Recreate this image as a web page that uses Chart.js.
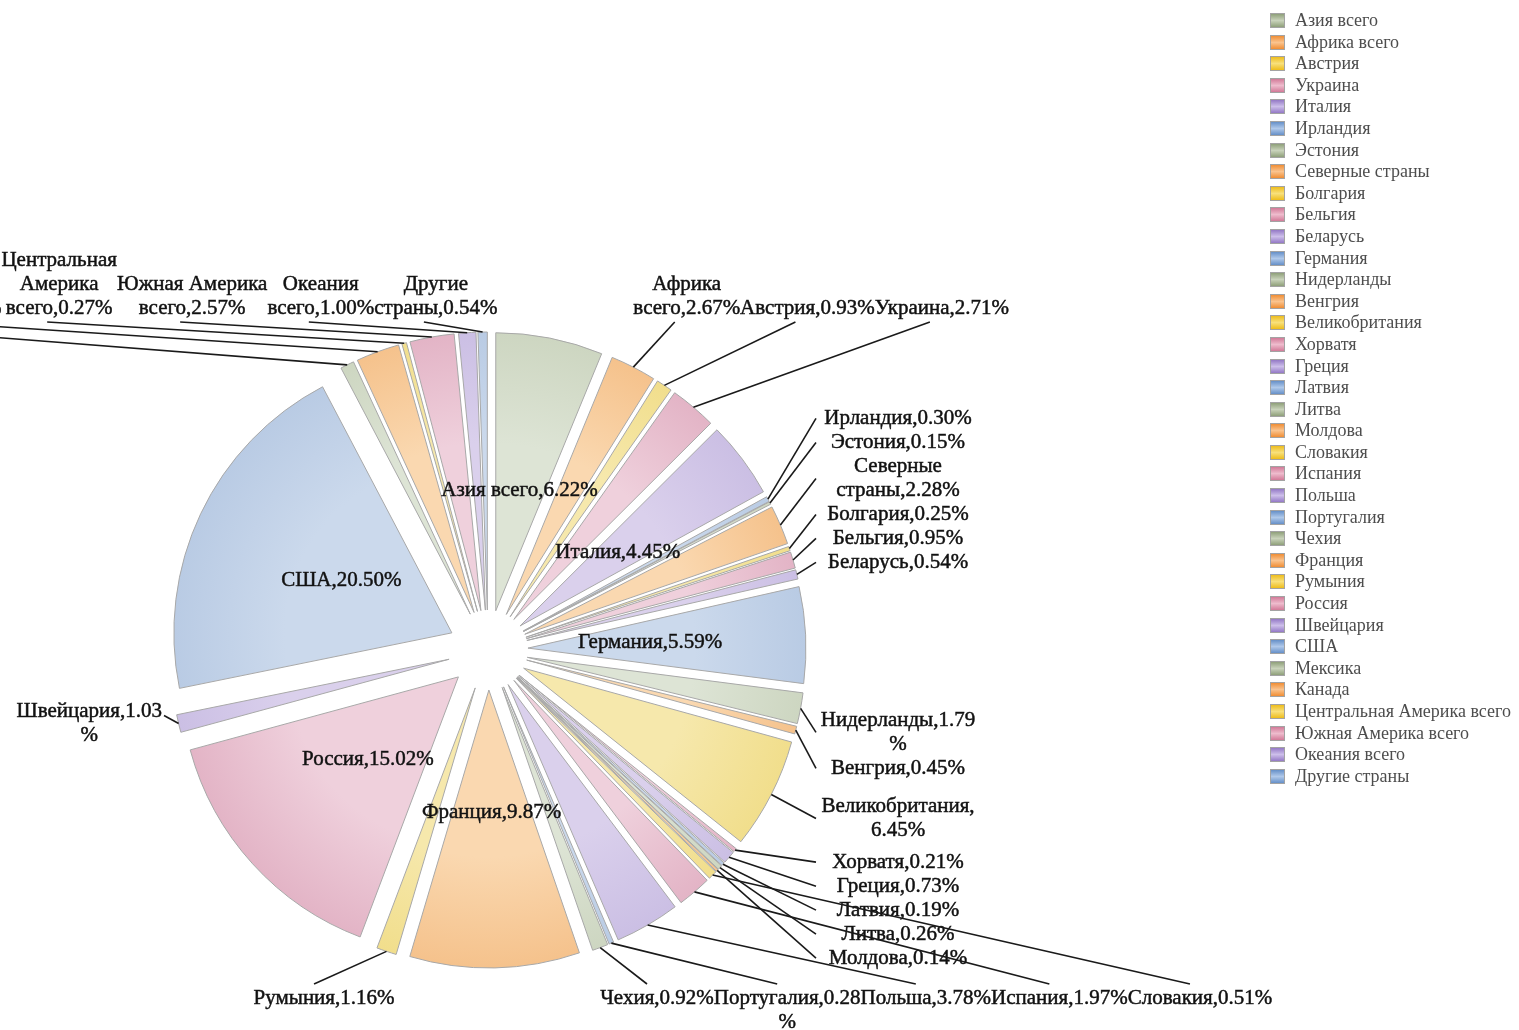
<!DOCTYPE html>
<html>
<head>
<meta charset="utf-8">
<script src="https://cdn.jsdelivr.net/npm/chart.js@4"></script>
<style>
  body { margin: 0; background: #fff; }
  #wrap { position: relative; width: 1519px; height: 1030px; overflow: hidden; }
  #chart { position: absolute; left: 0; top: 0; }
  #legend {
    position: absolute; left: 1270px; top: 10px;
    margin: 0; padding: 0; list-style: none;
    font: 18px "Liberation Serif", serif; color: #4d4d4d;
  }
  #legend li { height: 21.6px; line-height: 21.6px; white-space: nowrap; }
  #legend .box {
    display: inline-block; width: 13px; height: 13px; margin-right: 10px;
    vertical-align: -2px; border: 1px solid #a3a3a3;
  }
</style>
</head>
<body>
<div id="wrap">
  <canvas id="chart" width="1519" height="1030"></canvas>
  <ul id="legend"></ul>
</div>
<script>
// clockwise from 12 o'clock, same order as the legend
const categories = [
  'Азия всего', 'Африка всего', 'Австрия', 'Украина', 'Италия', 'Ирландия',
  'Эстония', 'Северные страны', 'Болгария', 'Бельгия', 'Беларусь', 'Германия',
  'Нидерланды', 'Венгрия', 'Великобритания', 'Хорватя', 'Греция', 'Латвия',
  'Литва', 'Молдова', 'Словакия', 'Испания', 'Польша', 'Португалия',
  'Чехия', 'Франция', 'Румыния', 'Россия', 'Швейцария', 'США',
  'Мексика', 'Канада', 'Центральная Америка всего', 'Южная Америка всего',
  'Океания всего', 'Другие страны'
];
const shares = [
  6.22, 2.67, 0.93, 2.71, 4.45, 0.30,
  0.15, 2.28, 0.25, 0.95, 0.54, 5.59,
  1.79, 0.45, 6.45, 0.21, 0.73, 0.19,
  0.26, 0.14, 0.51, 1.97, 3.78, 0.28,
  0.92, 9.87, 1.16, 15.02, 1.03, 20.50,
  0.80, 2.52, 0.27, 2.57,
  1.00, 0.54
];
// big slices carry their label inside
const insideLabels = ['Азия всего', 'Италия', 'Германия', 'Франция', 'Россия', 'США'];

// six-colour cycle: green, orange, yellow, pink, purple, blue
const sliceLight = ['#dde4d5', '#fad8b0', '#f6e8ac', '#efd0dc', '#dad0ec', '#cbd9ec'];
const sliceDark = ['#cdd6c1', '#f5c28c', '#f1de8c', '#e3b4c6', '#cbbfe4', '#b9cbe4'];
const legendDark = ['#8fa07a', '#f08e35', '#eebd1c', '#d27a98', '#9479c6', '#6690c8'];
const legendLight = ['#c9d3bb', '#fac48f', '#f8e07c', '#eebccd', '#cdbfea', '#b0c9ea'];

const PIE_RADIUS = 278;
const EXPLODE = 40;
const LABEL_FONT = '21px "Liberation Serif", serif';
const LINE_H = 24;
const MAX_LABEL_WIDTH = 160;

function sliceFill(c) {
  const k = c.dataIndex % 6;
  const area = c.chart.chartArea;
  if (!area) return sliceLight[k];
  const cx = (area.left + area.right) / 2;
  const cy = (area.top + area.bottom) / 2;
  const g = c.chart.ctx.createRadialGradient(cx, cy, 0, cx, cy, PIE_RADIUS);
  g.addColorStop(0, sliceLight[k]);
  g.addColorStop(0.6, sliceLight[k]);
  g.addColorStop(1, sliceDark[k]);
  return g;
}

function wrapText(ctx, text, maxW) {
  const lines = [];
  let line = '';
  for (const word of text.split(' ')) {
    const test = line ? line + ' ' + word : word;
    if (ctx.measureText(test).width <= maxW) { line = test; continue; }
    if (line) lines.push(line);
    let chunk = '';
    for (const ch of word) {
      if (chunk && ctx.measureText(chunk + ch).width > maxW) { lines.push(chunk); chunk = ch; }
      else chunk += ch;
    }
    line = chunk;
  }
  if (line) lines.push(line);
  return lines;
}

// every slice pushed out along its bisector by the same distance
const explodePlugin = {
  id: 'explode',
  beforeDatasetDraw(chart, args) {
    const ctx = chart.ctx;
    args.meta.data.forEach(arc => {
      const mid = (arc.startAngle + arc.endAngle) / 2;
      ctx.save();
      ctx.translate(Math.cos(mid) * EXPLODE, Math.sin(mid) * EXPLODE);
      arc.draw(ctx);
      ctx.restore();
    });
    return false;
  }
};

function drawText(ctx, s, x, y) {
  ctx.strokeText(s, x, y);
  ctx.fillText(s, x, y);
}

const labelPlugin = {
  id: 'sliceLabels',
  afterDatasetsDraw(chart) {
    const ctx = chart.ctx;
    const arcs = chart.getDatasetMeta(0).data;
    const cx = arcs[0].x, cy = arcs[0].y, R = arcs[0].outerRadius;
    const ro = R + EXPLODE;
    ctx.save();
    ctx.font = LABEL_FONT;
    ctx.fillStyle = '#111';
    ctx.textAlign = 'center';
    ctx.textBaseline = 'middle';
    ctx.lineWidth = 0.5;
    ctx.strokeStyle = '#222';

    const outside = [];
    arcs.forEach((arc, i) => {
      const mid = (arc.startAngle + arc.endAngle) / 2;
      const text = `${categories[i]},${shares[i].toFixed(2)}%`;
      if (insideLabels.includes(categories[i])) {
        const r = EXPLODE + R * 0.44;
        drawText(ctx, text, cx + Math.cos(mid) * r, cy + Math.sin(mid) * r);
        return;
      }
      const lines = wrapText(ctx, text, MAX_LABEL_WIDTH);
      const w = Math.max(...lines.map(l => ctx.measureText(l).width));
      const deg = ((mid * 180 / Math.PI + 90) % 360 + 360) % 360;
      outside.push({
        lines, w, h: lines.length * LINE_H, deg,
        ax: cx + Math.cos(mid) * ro, ay: cy + Math.sin(mid) * ro
      });
    });

    const zone = (a, b) => outside.filter(d => d.deg >= a && d.deg < b);
    const topY = cy - ro - 12;
    const bottomY = cy + ro + 18;

    // top right row, packed rightwards
    let edge = -Infinity;
    zone(0, 45).sort((a, b) => a.deg - b.deg).forEach(d => {
      d.left = Math.max(d.ax, edge); d.top = topY - d.h; d.boxW = d.w;
      edge = d.left + d.w;
      d.ex = d.left + d.w / 2 - 12; d.ey = topY + 2;
    });
    // top left row, packed leftwards
    edge = Infinity;
    zone(315, 360).sort((a, b) => b.deg - a.deg).forEach(d => {
      const right = Math.min(d.ax + 15, edge);
      d.left = right - d.w; d.top = topY - d.h; d.boxW = d.w;
      edge = d.left;
      d.ex = d.left + d.w / 2 - 12; d.ey = topY + 2;
    });
    // right column
    const colLeft = cx + ro + 12;
    const right = zone(45, 135);
    let limit = Infinity;
    right.filter(d => d.ay < cy).sort((a, b) => b.ay - a.ay).forEach(d => {
      d.top = Math.min(d.ay, limit) - d.h; limit = d.top;
    });
    limit = -Infinity;
    right.filter(d => d.ay >= cy).sort((a, b) => a.ay - b.ay).forEach(d => {
      d.top = Math.max(d.ay, limit); limit = d.top + d.h;
    });
    right.forEach(d => {
      d.left = colLeft; d.boxW = MAX_LABEL_WIDTH;
      d.ex = colLeft - 2; d.ey = d.top + d.h / 2;
    });
    // bottom right row, packed rightwards
    edge = -Infinity;
    zone(135, 180).sort((a, b) => b.deg - a.deg).forEach(d => {
      d.left = Math.max(d.ax, edge); d.top = bottomY; d.boxW = d.w;
      edge = d.left + d.w;
      d.ex = d.left + d.w / 2 - 10; d.ey = bottomY - 2;
    });
    // bottom left row, packed leftwards
    edge = Infinity;
    zone(180, 225).sort((a, b) => a.deg - b.deg).forEach(d => {
      const r = Math.min(d.ax + 8, edge);
      d.left = r - d.w; d.top = bottomY; d.boxW = d.w;
      edge = d.left;
      d.ex = d.left + d.w / 2 - 10; d.ey = bottomY - 2;
    });
    // left column
    zone(225, 315).forEach(d => {
      d.left = cx - ro - 8 - d.w; d.top = d.ay - d.h / 2; d.boxW = d.w;
      d.ex = cx - ro - 6; d.ey = d.ay - LINE_H / 2 + 4;
    });

    outside.forEach(d => {
      ctx.save();
      ctx.strokeStyle = '#1a1a1a';
      ctx.lineWidth = 1.6;
      ctx.beginPath();
      ctx.moveTo(d.ax, d.ay);
      ctx.lineTo(d.ex, d.ey);
      ctx.stroke();
      ctx.restore();
      d.lines.forEach((l, k) => {
        drawText(ctx, l, d.left + d.boxW / 2, d.top + LINE_H * (k + 0.5));
      });
    });
    ctx.restore();
  }
};

const canvas = document.getElementById('chart');
new Chart(canvas, {
  type: 'pie',
  data: {
    labels: categories,
    datasets: [{
      data: shares,
      radius: PIE_RADIUS,
      backgroundColor: sliceFill,
      borderColor: '#a8a8a8',
      borderWidth: 1,
    }],
  },
  options: {
    responsive: false,
    animation: false,
    layout: { padding: { left: 0, right: 543, top: 270, bottom: 0 } },
    plugins: {
      legend: { display: false },
      tooltip: { enabled: false },
    },
  },
  plugins: [explodePlugin, labelPlugin],
});

const legend = document.getElementById('legend');
categories.forEach((name, i) => {
  const k = i % 6;
  const li = document.createElement('li');
  const box = document.createElement('span');
  box.className = 'box';
  box.style.background = `linear-gradient(${legendDark[k]}, ${legendLight[k]} 50%, ${legendDark[k]})`;
  li.appendChild(box);
  li.appendChild(document.createTextNode(name));
  legend.appendChild(li);
});
</script>
</body>
</html>
